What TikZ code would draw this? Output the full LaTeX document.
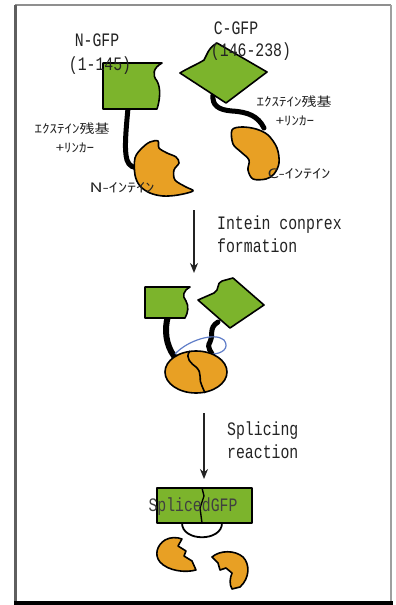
\documentclass[tikz,border=0pt]{standalone}
\usepackage{fontspec}
\usepackage{tikz}
\usetikzlibrary{calc, arrows.meta}
\newfontfamily\gothicmono[FakeStretch=0.78]{Liberation Mono}
\newfontfamily\gothicjp[FakeStretch=1.2]{Noto Sans CJK JP}
\newfontfamily\gothicjpwide[FakeStretch=1.4]{Noto Sans CJK JP}
\definecolor{GFPGreen}{RGB}{124, 180, 44}
\definecolor{InteinOrange}{RGB}{232, 160, 36}
\definecolor{LoopBlue}{RGB}{95, 125, 200}
\definecolor{FrameGrey}{RGB}{95, 95, 95}
\definecolor{InkBlack}{RGB}{35, 35, 35}

\begin{document}
\begin{tikzpicture}[x=1pt, y=-1pt,
    gfp/.style={fill=GFPGreen, draw=black, line width=1.6pt, line join=round},
    intein/.style={fill=InteinOrange, draw=black, line width=1.6pt, line join=round},
    linker/.style={draw=black, line width=5pt, line cap=round},
    steparrow/.style={-{Stealth[length=10pt, width=8pt]}, line width=2pt, InkBlack},
    monolbl/.style={font=\gothicmono\fontsize{19}{23}\selectfont, text=InkBlack, inner sep=0pt},
    jplbl/.style={font=\gothicjp\fontsize{12.5}{15}\selectfont, text=InkBlack, inner sep=0pt},
    jpwidelbl/.style={font=\gothicjpwide\fontsize{13}{15}\selectfont, text=InkBlack, inner sep=0pt}]
    \useasboundingbox (0,0) rectangle (396,605);
    \fill[white] (0,0) rectangle (396,605);
    % frame
    \draw[FrameGrey!70, line width=1.5pt] (15,5) -- (391,5);
    \draw[FrameGrey!60, line width=1.5pt] (391,5) -- (391,602);
    \draw[FrameGrey, line width=2.5pt] (15.5,5) -- (15.5,602);
    \draw[black, line width=3.5pt] (14,603) -- (393,603);

    % separated halves
    \draw[linker] (128,108) .. controls (126,130) and (124,150) .. (127,160)
        .. controls (129,166) and (133,168) .. (140,168);
    \draw[linker] (213,95) .. controls (212,105) and (218,110) .. (232,111)
        .. controls (248,112) and (258,116) .. (264,128);
    \draw[gfp] (103,63) -- (162,63) .. controls (153,68) and (152,75) .. (157,81)
        .. controls (161,88) and (160,100) .. (157,109) -- (103,109) -- cycle;
    \draw[gfp] (180,73) .. controls (188,68) and (198,64) .. (204,60)
        .. controls (207,55) and (208,48) .. (217,43) -- (267,72) -- (226,103) -- cycle;
    \draw[intein] plot[smooth cycle, tension=0.55] coordinates {(135,158) (142,148) (150,142)
        (158,141) (159,148) (167,153) (176,157) (179,163) (174,170) (175,180) (186,187)
        (193,191) (178,195) (163,196) (150,193) (140,186) (135,175)};
    \draw[intein] plot[smooth cycle, tension=0.55] coordinates {(232,130) (242,127) (256,129)
        (268,135) (277,148) (279,163) (274,174) (266,179) (253,179) (248,170) (249,160)
        (241,152) (233,144)};

    \node[monolbl] (ngfp) at (97,40) {N-GFP};
    \node[monolbl] (ngfprange) at (100,66) {(1-145)};
    \node[monolbl] (cgfp) at (236,28) {C-GFP};
    \node[monolbl] (cgfprange) at (251,52) {(146-238)};
    \node[jplbl] (nlinkera) at (72,129) {ｴｸｽﾃｲﾝ残基};
    \node[jplbl] (nlinkerb) at (75,148) {+ﾘﾝｶｰ};
    \node[jplbl] (clinkera) at (294,102) {ｴｸｽﾃｲﾝ残基};
    \node[jplbl] (clinkerb) at (295,121) {+ﾘﾝｶｰ};
    \node[jpwidelbl] (ninteinlbl) at (122,188) {N-ｲﾝﾃｲﾝ};
    \node[jpwidelbl] (cinteinlbl) at (299,174) {C-ｲﾝﾃｲﾝ};

    % step 1
    \coordinate (stepa) at (194,210);
    \coordinate (stepb) at (194,273);
    \draw[steparrow] (stepa) -- (stepb);
    \node[monolbl, anchor=west, align=left] (steplbl) at (217,234) {Intein conprex\\formation};

    % complex
    \draw[linker, line width=6pt] (168,316) .. controls (164,330) and (166,345) .. (174,356);
    \draw[linker] (218,322) .. controls (208,328) and (214,336) .. (210,342)
        .. controls (206,348) and (212,352) .. (213,356);
    \draw[LoopBlue, line width=1.2pt] (175,354) .. controls (188,340) and (215,332) .. (224,340)
        .. controls (230,348) and (222,354) .. (212,354);
    \draw[gfp] (145,287) -- (190,287) .. controls (183,291) and (182,296) .. (186,301)
        .. controls (189,306) and (188,313) .. (185,318) -- (145,318) -- cycle;
    \draw[gfp] (198,300) -- (214,293) .. controls (220,290) and (216,283) .. (222,281)
        -- (233,278) -- (264,305) -- (230,328) -- cycle;
    \draw[intein] (196,372) ellipse [x radius=31, y radius=21];
    \draw[black, line width=1.6pt] (190,351) .. controls (184,358) and (192,364) .. (196,367)
        .. controls (203,373) and (198,380) .. (202,386) -- (205,393);

    % step 2
    \coordinate (stepc) at (204,413);
    \coordinate (stepd) at (204,479);
    \draw[steparrow] (stepc) -- (stepd);
    \node[monolbl, anchor=west, align=left] (splicelbl) at (227,440) {Splicing\\reaction};

    % spliced product
    \draw[black, line width=1.8pt] (182,523) .. controls (182,542) and (222,542) .. (222,523);
    \draw[gfp] (157,488) rectangle (252,523);
    \draw[black, line width=1.4pt] (202,488) -- (204,496) -- (200,508) -- (202,523);
    \node[monolbl, text=black!75] (splicedgfp) at (193,507) {SplicedGFP};
    \draw[intein] (182,539) -- (178,546) -- (186,551) -- (184,556) -- (192,561) -- (196,570)
        .. controls (185,573) and (168,571) .. (160,562)
        .. controls (154,555) and (157,545) .. (165,540)
        .. controls (170,537) and (177,537) .. (182,539) -- cycle;
    \draw[intein] (212,557) .. controls (220,550) and (235,550) .. (243,557)
        .. controls (250,564) and (250,578) .. (240,587) -- (232,589)
        .. controls (229,584) and (230,578) .. (232,573) -- (226,568) -- (220,570)
        -- (218,563) -- cycle;
\end{tikzpicture}
\end{document}
